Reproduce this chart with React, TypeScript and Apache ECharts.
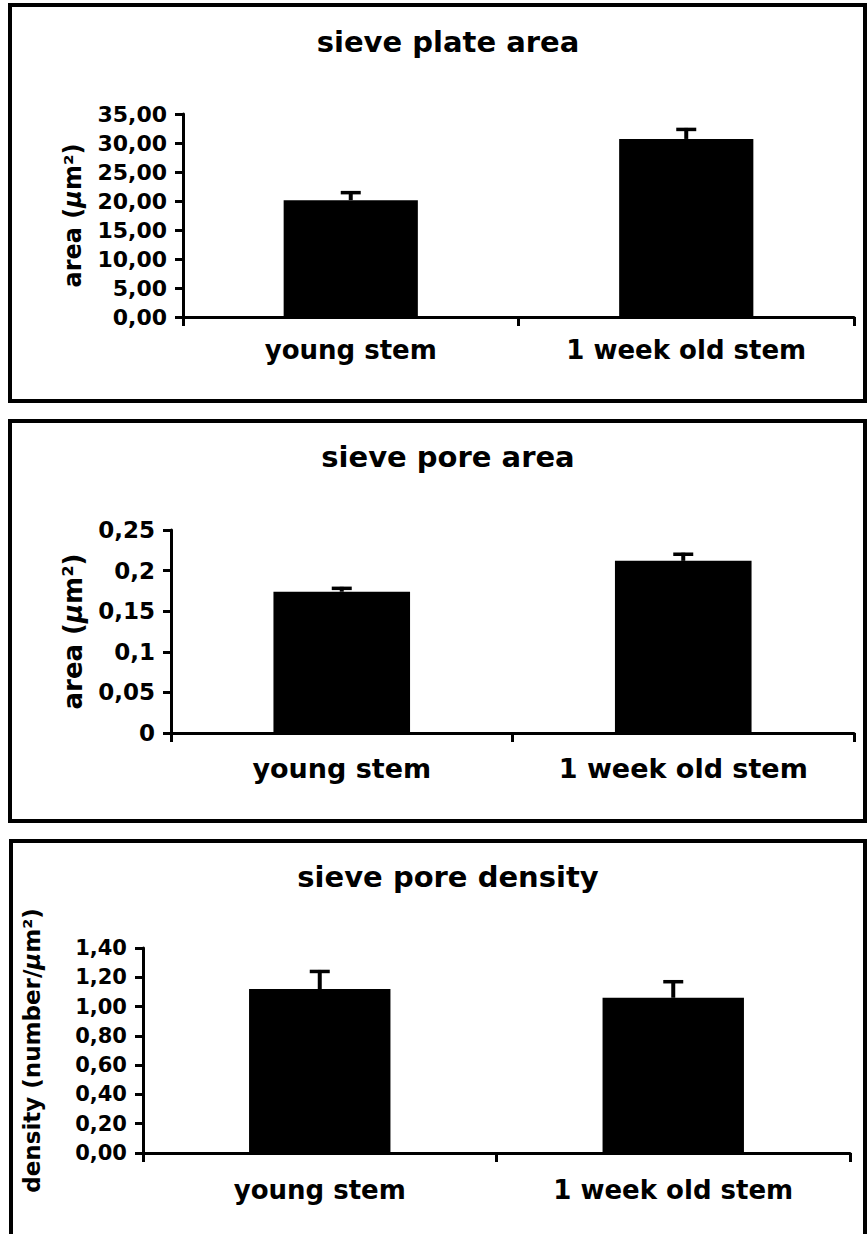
import React, { useEffect, useRef } from "react";
import * as echarts from "echarts";

// ---- data ----
const categories = ["young stem", "1 week old stem"];
const titles = ["sieve plate area", "sieve pore area", "sieve pore density"];

const plateArea = [20.15, 30.7];
const plateAreaErr = [1.55, 1.9];
const plateTicks = ["0,00", "5,00", "10,00", "15,00", "20,00", "25,00", "30,00", "35,00"];

const poreArea = [0.174, 0.212];
const poreAreaErr = [0.006, 0.01];
const poreTicks = ["0", "0,05", "0,1", "0,15", "0,2", "0,25"];

const poreDensity = [1.12, 1.06];
const poreDensityErr = [0.13, 0.12];
const densityTicks = ["0,00", "0,20", "0,40", "0,60", "0,80", "1,00", "1,20", "1,40"];

const FONT = "DejaVu Sans";

const panels = [
  {
    title: titles[0], titleTop: 22, values: plateArea, errs: plateAreaErr, ticks: plateTicks,
    max: 35, interval: 5, yName: "area ({mu|µ}m²)", nameGap: 98, nameSize: 24, tickSize: 22,
    grid: { left: 183, top: 114, width: 671, height: 203 }, xLabelSize: 26, xMargin: 20,
  },
  {
    title: titles[1], titleTop: 437, values: poreArea, errs: poreAreaErr, ticks: poreTicks,
    max: 0.25, interval: 0.05, yName: "area ({mu|µ}m²)", nameGap: 85, nameSize: 26, tickSize: 23,
    grid: { left: 171, top: 530, width: 683, height: 203 }, xLabelSize: 27, xMargin: 22,
  },
  {
    title: titles[2], titleTop: 857, values: poreDensity, errs: poreDensityErr, ticks: densityTicks,
    max: 1.4, interval: 0.2, yName: "density (number/{mu|µ}m²)", nameGap: 100, nameSize: 23, tickSize: 21,
    grid: { left: 143, top: 948, width: 707, height: 205 }, xLabelSize: 26, xMargin: 24,
  },
];

const frames = [
  { x: 10, y: 5, width: 855, height: 396 },
  { x: 10, y: 421, width: 855, height: 400 },
  { x: 11, y: 841, width: 854, height: 500 },
];

export default function App() {
  const ref = useRef<HTMLDivElement>(null);
  useEffect(() => {
    if (!ref.current) return;
    const chart = echarts.init(ref.current, null, { renderer: "svg" });
    const option: any = {
      animation: false,
      backgroundColor: "#fff",
      title: panels.map((p) => ({
        text: p.title,
        left: 443,
        top: p.titleTop,
        textAlign: "center",
        textStyle: { fontFamily: FONT, fontWeight: "bold", fontSize: 29, color: "#000" },
      })),
      grid: panels.map((p) => ({ ...p.grid, containLabel: false })),
      xAxis: panels.map((p, i) => ({
        type: "category",
        gridIndex: i,
        data: categories,
        axisLine: { lineStyle: { color: "#000", width: 3 } },
        axisTick: { show: true, length: 9, lineStyle: { color: "#000", width: 3 } },
        axisLabel: {
          fontFamily: FONT, fontWeight: "bold", fontSize: p.xLabelSize, color: "#000", margin: p.xMargin,
        },
        splitLine: { show: false },
      })),
      yAxis: panels.map((p, i) => ({
        type: "value",
        gridIndex: i,
        min: 0,
        max: p.max,
        interval: p.interval,
        name: p.yName,
        nameLocation: "middle",
        nameRotate: 90,
        nameGap: p.nameGap,
        nameTextStyle: {
          fontFamily: FONT, fontWeight: "bold", fontSize: p.nameSize, color: "#000",
          rich: { mu: { fontFamily: FONT, fontWeight: "bold", fontStyle: "italic", fontSize: p.nameSize, color: "#000" } },
        },
        axisLine: { show: true, lineStyle: { color: "#000", width: 3 } },
        axisTick: { show: true, length: 8, lineStyle: { color: "#000", width: 3 } },
        axisLabel: {
          fontFamily: FONT, fontWeight: "bold", fontSize: p.tickSize, color: "#000", margin: 16,
          formatter: (v: number) => p.ticks[Math.round(v / p.interval)] ?? "",
        },
        splitLine: { show: false },
      })),
      series: [
        ...panels.map((p, i) => ({
          type: "bar",
          xAxisIndex: i,
          yAxisIndex: i,
          data: p.values,
          barWidth: "40%",
          itemStyle: { color: "#000" },
          z: 2,
        })),
        ...panels.map((p, i) => ({
          type: "custom",
          xAxisIndex: i,
          yAxisIndex: i,
          encode: { x: 0, y: 1 },
          data: p.values.map((v, k) => [k, v, p.errs[k]]),
          z: 3,
          renderItem: (params: any, api: any) => {
            const x = api.value(0);
            const v = api.value(1);
            const e = api.value(2);
            const base = api.coord([x, v]);
            const top = api.coord([x, v + e]);
            const hw = 10;
            return {
              type: "group",
              children: [
                { type: "line", shape: { x1: base[0], y1: base[1], x2: top[0], y2: top[1] }, style: { stroke: "#000", lineWidth: 4 } },
                { type: "line", shape: { x1: top[0] - hw, y1: top[1] + 1.5, x2: top[0] + hw, y2: top[1] + 1.5 }, style: { stroke: "#000", lineWidth: 3.5 } },
              ],
            };
          },
        })),
      ],
      graphic: frames.map((f) => ({
        type: "rect",
        shape: f,
        style: { fill: "transparent", stroke: "#000", lineWidth: 4 },
        z: 10,
      })),
    };
    chart.setOption(option);
    return () => chart.dispose();
  }, []);
  return (
    <div
      ref={ref}
      style={{ position: "absolute", left: 0, top: 0, width: 867, height: 1234, background: "#fff" }}
    />
  );
}
